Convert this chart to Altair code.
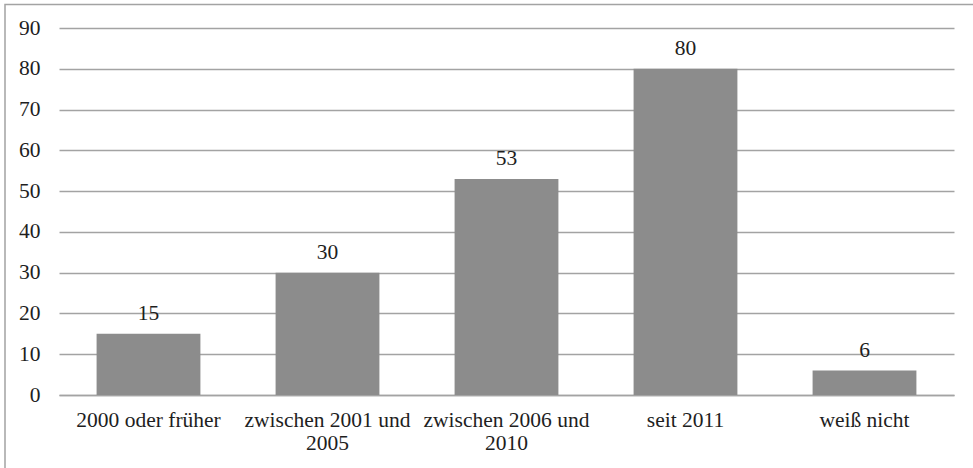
import altair as alt
import pandas as pd

categories = ["2000 oder früher", "zwischen 2001 und 2005", "zwischen 2006 und 2010", "seit 2011", "weiß nicht"]
values = [15, 30, 53, 80, 6]

df = pd.DataFrame({"kategorie": categories, "wert": values})

FONT = "Liberation Serif"
GRAY_LINE = "#a3a3a3"
TEXT = "#1e1e1e"
SIZE = 21.5

base = alt.Chart(df)

x_enc = alt.X(
    "kategorie:N",
    sort=categories,
    title=None,
    scale=alt.Scale(paddingInner=0.42, paddingOuter=0.21),
    axis=alt.Axis(
        labelAngle=0,
        labelFont=FONT,
        labelFontSize=SIZE,
        labelColor=TEXT,
        labelPadding=14,
        labelLineHeight=23,
        labelLimit=300,
        ticks=False,
        domainColor=GRAY_LINE,
        domainWidth=1.5,
        # two-line labels for the long category names
        labelExpr="length(datum.label) > 18 ? [slice(datum.label, 0, 17), slice(datum.label, 18)] : datum.label",
    ),
)

y_enc = alt.Y(
    "wert:Q",
    title=None,
    scale=alt.Scale(domain=[0, 90]),
    axis=alt.Axis(
        values=list(range(0, 91, 10)),
        labelFont=FONT,
        labelFontSize=SIZE,
        labelColor=TEXT,
        labelPadding=19,
        ticks=False,
        domain=False,
        gridColor=GRAY_LINE,
        gridWidth=1.5,
    ),
)

bars = base.mark_bar(color="#8c8c8c").encode(x=x_enc, y=y_enc)

labels = base.mark_text(
    font=FONT, fontSize=SIZE, color=TEXT, baseline="alphabetic", dy=-14
).encode(x=alt.X("kategorie:N", sort=categories), y="wert:Q", text="wert:Q")

# outer frame; its right and bottom edges lie outside the canvas
frame = alt.Chart(pd.DataFrame({"a": [0]})).mark_rect(
    fill=None, stroke="#a3a3a3", strokeWidth=1.5
).encode(
    x=alt.value(5 - 59), x2=alt.value(990 - 59),
    y=alt.value(4.5 - 28), y2=alt.value(490 - 28),
)

chart = alt.layer(bars, labels, frame).properties(
    width=895,
    height=367,
    padding={"left": 59, "top": 28, "right": 19, "bottom": 73},
    autosize=alt.AutoSizeParams(type="none"),
    background="white",
).configure_view(stroke=None)

chart.save("out.html", embed_options={"renderer": "svg", "actions": False})
